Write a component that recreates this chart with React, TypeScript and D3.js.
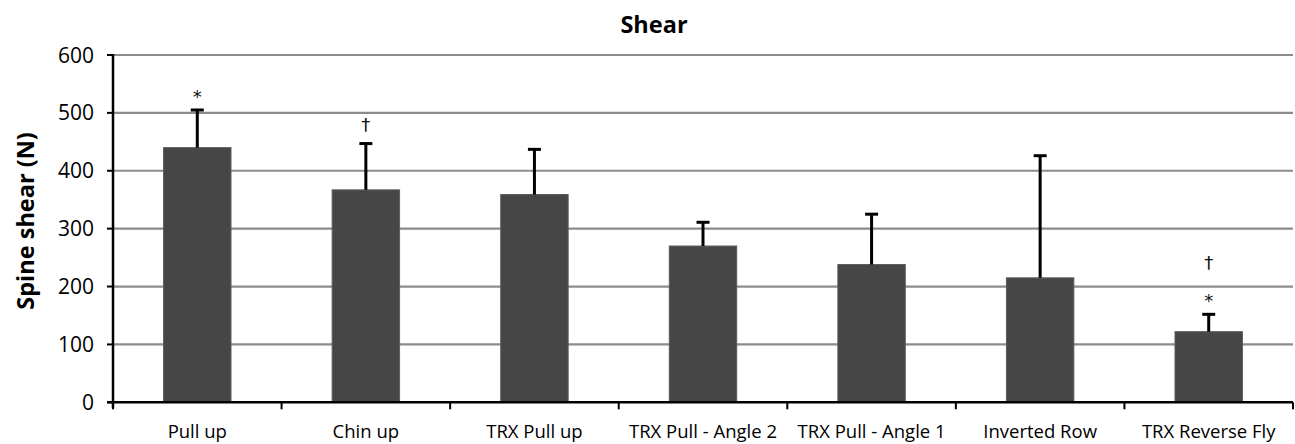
import React from "react";
import * as d3 from "d3";

// Exercise categories along the x axis
const exercises = [
  "Pull up",
  "Chin up",
  "TRX Pull up",
  "TRX Pull - Angle 2",
  "TRX Pull - Angle 1",
  "Inverted Row",
  "TRX Reverse Fly",
];

// Mean spine shear force (N)
const meanShear = [440, 367, 359, 270, 238, 215, 122];

// Standard deviation (upper error bar only)
const sdShear = [65, 80, 78, 41, 87, 211, 30];

// Significance marks drawn above each error bar (bottom to top)
const sigMarks: string[][] = [["*"], ["†"], [], [], [], [], ["*", "†"]];

const yTicks = [0, 100, 200, 300, 400, 500, 600];

const W = 1295;
const H = 444;
const FONT = "'Open Sans', 'Noto Sans', sans-serif";
const MARK_FONT = "'DejaVu Sans', sans-serif";

export default function App() {
  const left = 113;
  const right = 1293;
  const top = 55;
  const bottom = 402.3;

  const x = d3
    .scaleBand<string>()
    .domain(exercises)
    .range([left, right])
    .paddingInner(0.6)
    .paddingOuter(0.3);
  const step = x.step();
  const y = d3.scaleLinear().domain([0, 600]).range([bottom, top]);

  const capHalf = 6.5;

  return (
    <div style={{ position: "absolute", left: 0, top: 0 }}>
      <svg width={W} height={H} style={{ display: "block", background: "#fff" }}>
        {/* title */}
        <text
          x={654}
          y={33}
          textAnchor="middle"
          fontFamily={FONT}
          fontWeight={700}
          fontSize={23.5}
          fill="#000"
        >
          Shear
        </text>

        {/* horizontal gridlines */}
        {yTicks
          .filter((t) => t > 0)
          .map((t) => (
            <line
              key={`g${t}`}
              x1={left}
              x2={right}
              y1={y(t)}
              y2={y(t)}
              stroke="#8c8c8c"
              strokeWidth={2.2}
            />
          ))}

        {/* bars */}
        {exercises.map((c, i) => (
          <rect
            key={`b${c}`}
            x={x(c)!}
            y={y(meanShear[i])}
            width={x.bandwidth()}
            height={y(0) - y(meanShear[i])}
            fill="#464646"
            stroke="#5c5c5c"
            strokeWidth={1}
          />
        ))}

        {/* error bars */}
        {exercises.map((c, i) => {
          const cx = x(c)! + x.bandwidth() / 2;
          const yTop = y(meanShear[i] + sdShear[i]);
          return (
            <g key={`e${c}`} stroke="#000" strokeWidth={3}>
              <line x1={cx} x2={cx} y1={y(meanShear[i])} y2={yTop} />
              <line x1={cx - capHalf} x2={cx + capHalf} y1={yTop} y2={yTop} />
            </g>
          );
        })}

        {/* significance marks */}
        {exercises.map((c, i) => {
          const cx = x(c)! + x.bandwidth() / 2;
          const yTop = y(meanShear[i] + sdShear[i]);
          return sigMarks[i].map((m, k) => {
            const centerY = yTop - 19 - k * 32;
            const baseY = m === "*" ? centerY + 12 : centerY + 6;
            return (
              <text
                key={`s${c}${k}`}
                x={cx}
                y={baseY}
                textAnchor="middle"
                fontFamily={MARK_FONT}
                fontSize={18}
                fill="#111"
              >
                {m}
              </text>
            );
          });
        })}

        {/* y axis */}
        <line x1={left} x2={left} y1={top - 1} y2={bottom + 6} stroke="#000" strokeWidth={2.5} />
        {yTicks.map((t) => (
          <g key={`yt${t}`}>
            <line x1={left - 6} x2={left} y1={y(t)} y2={y(t)} stroke="#000" strokeWidth={2} />
            <text
              x={94}
              y={y(t) + 7.5}
              textAnchor="end"
              fontFamily={FONT}
              fontSize={21}
              fill="#000"
            >
              {t}
            </text>
          </g>
        ))}

        {/* x axis */}
        <line x1={left - 6} x2={right} y1={bottom} y2={bottom} stroke="#000" strokeWidth={2.5} />
        {d3.range(exercises.length + 1).map((k) => {
          const tx = left + k * step;
          return (
            <line key={`xt${k}`} x1={tx} x2={tx} y1={bottom} y2={bottom + 7} stroke="#000" strokeWidth={2} />
          );
        })}
        {exercises.map((c) => (
          <text
            key={`xl${c}`}
            x={x(c)! + x.bandwidth() / 2}
            y={438}
            textAnchor="middle"
            fontFamily={FONT}
            fontSize={18.5}
            fill="#000"
          >
            {c}
          </text>
        ))}

        {/* y axis title */}
        <text
          transform={`translate(34, 221) rotate(-90)`}
          textAnchor="middle"
          fontFamily={FONT}
          fontWeight={700}
          fontSize={23.5}
          fill="#000"
        >
          Spine shear (N)
        </text>
      </svg>
    </div>
  );
}
